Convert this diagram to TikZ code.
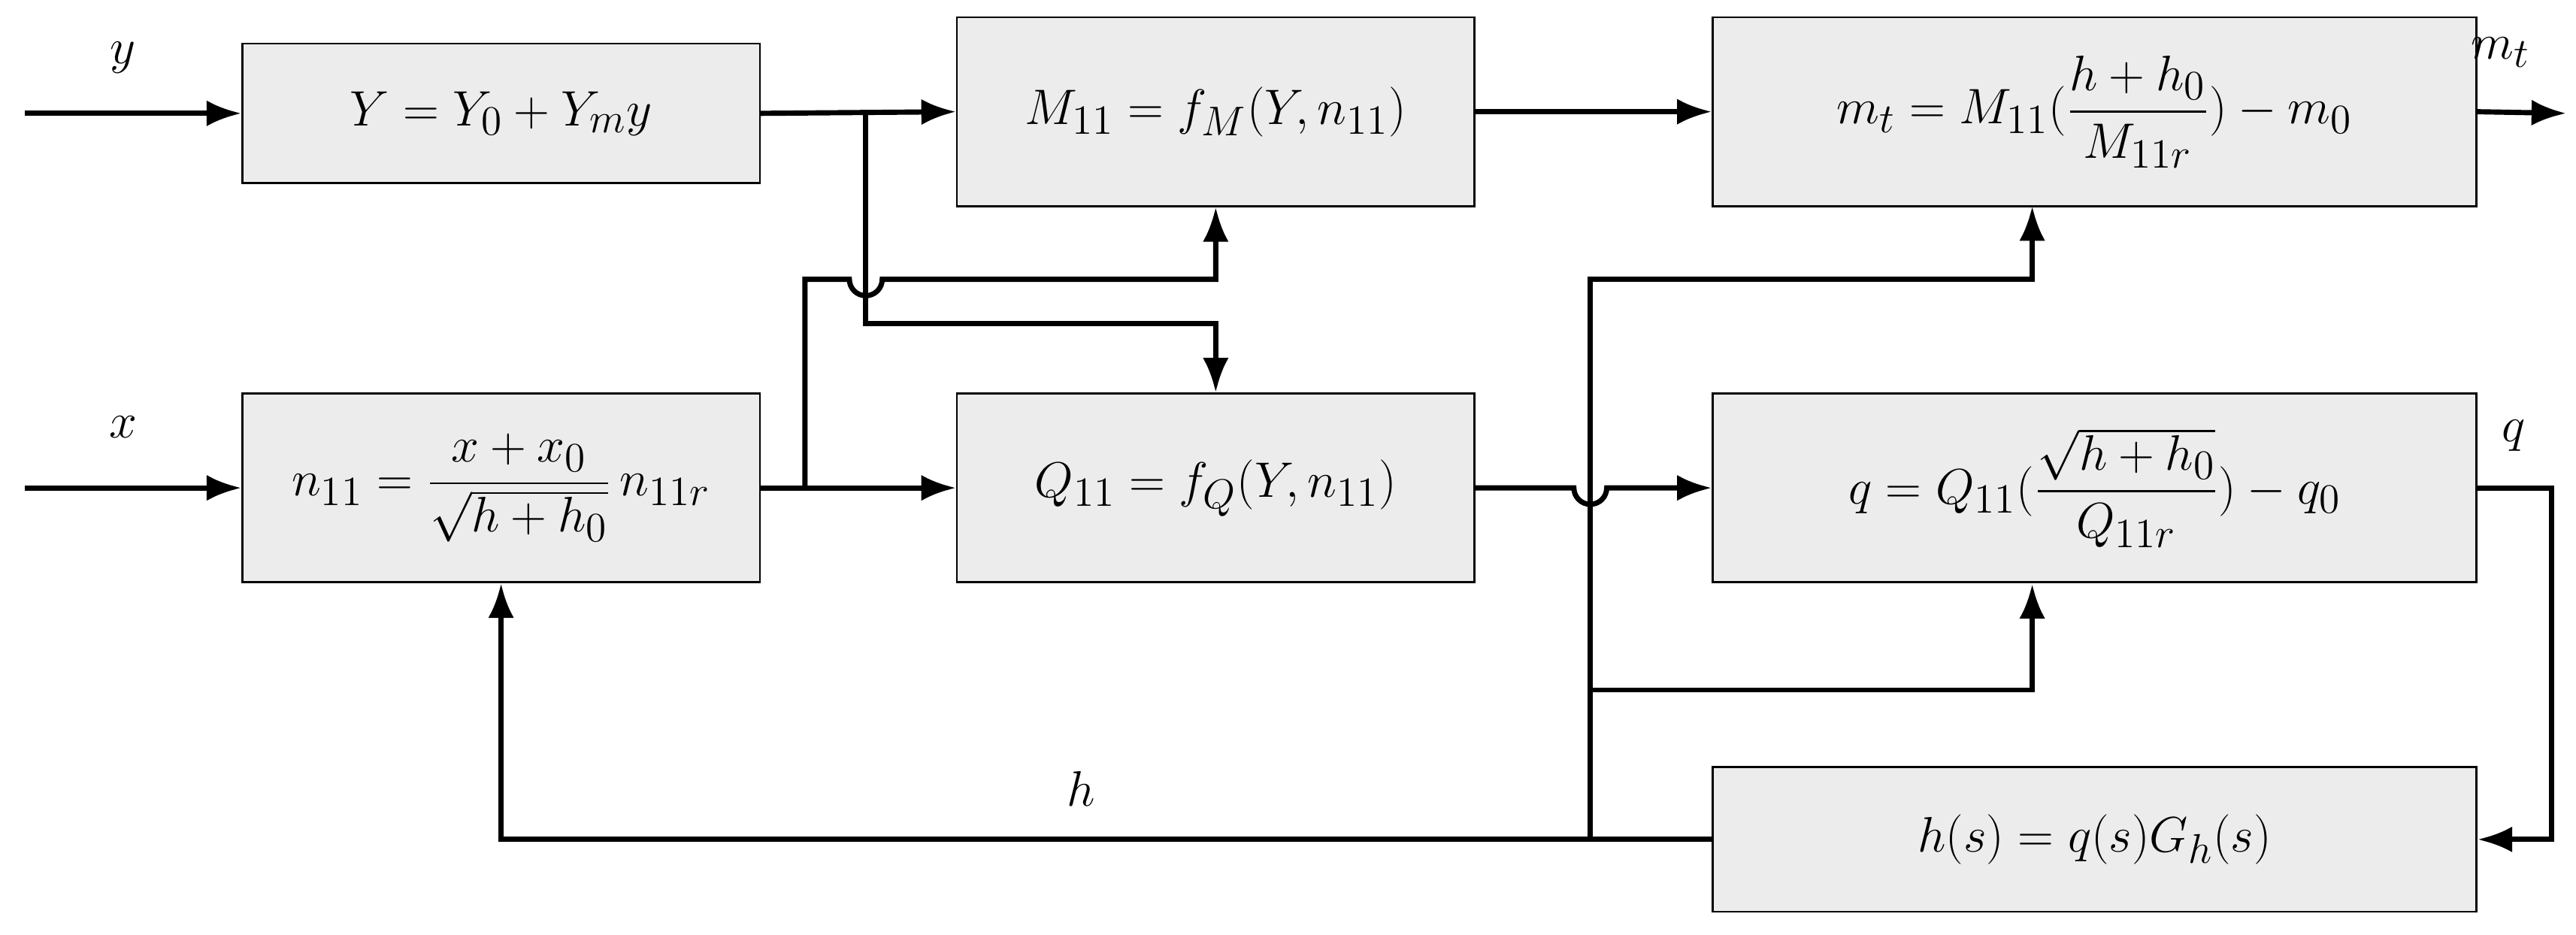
\documentclass[tikz,border=0pt]{standalone}
\usepackage{amsmath}
\usetikzlibrary{arrows.meta,calc}
\begin{document}
\begin{tikzpicture}[x=0.02cm,y=-0.02cm,
  blk/.style={draw=black,line width=0.7pt,fill=gray!15,minimum height=#1*0.02cm,inner sep=0pt},
  wide/.style={minimum width=315*0.02cm},
  wider/.style={minimum width=465*0.02cm},
  ln/.style={line width=1.8pt},
  ar/.style={ln,-{Latex[length=12pt,width=9pt]}},
  every node/.style={font=\fontsize{19}{23}\selectfont}]
\useasboundingbox (0,0) rectangle (1568,569);
\node[blk=85,wide] (Yb) at (305,69) {$Y=Y_0+Y_m y$};
\node[blk=115,wide] (Mb) at (740,68) {$M_{11}=f_M(Y,n_{11})$};
\node[blk=115,wider] (mt) at (1275,68) {$m_t=M_{11}(\dfrac{h+h_0}{M_{11r}})-m_0$};
\node[blk=115,wide] (nb) at (305,297) {$n_{11}=\dfrac{x+x_0}{\sqrt{h+h_0}}\,n_{11r}$};
\node[blk=115,wide] (Qb) at (740,297) {$Q_{11}=f_Q(Y,n_{11})$};
\node[blk=115,wider] (qb) at (1275,297) {$q=Q_{11}(\dfrac{\sqrt{h+h_0}}{Q_{11r}})-q_0$};
\node[blk=88,wider] (hb) at (1275,511) {$h(s)=q(s)G_h(s)$};
\coordinate (yin) at (15,69); \coordinate (xin) at (15,297);
\coordinate (mout) at (1562,69);
\node (ly) at (75,35) {$y$}; \node (lx) at (75,260) {$x$};
\node (lm) at (1522,32) {$m_t$}; \node (lq) at (1530,265) {$q$};
\node (lh) at (658,480) {$h$};
\draw[ar] (yin) -- (Yb.west);
\draw[ar] (xin) -- (nb.west);
\draw[ar] (Yb.east) -- (Mb.west);
\draw[ar] (nb.east) -- (Qb.west);
\draw[ar] (Mb.east) -- (mt.west);
\draw[ar] (mt.east) -- (mout);
\draw[ar] (527,69) -- (527,197) -- (740,197) -- (Qb.north);
\draw[ar] (490,297) -- (490,170) -- (517,170) arc[start angle=180,end angle=0,radius=10] -- (740,170) -- (Mb.south);
\draw[ar] (Qb.east) -- (958,297) arc[start angle=180,end angle=0,radius=10] -- (qb.west);
\draw[ar] (qb.east) -- (1553,297) -- (1553,511) -- (hb.east);
\draw[ar] (hb.west) -- (305,511) -- (nb.south);
\draw[ar] (968,511) -- (968,170) -- (1237,170) -- (1237,125.5);
\draw[ar] (968,420) -- (1237,420) -- (1237,355.5);
\end{tikzpicture}
\end{document}
